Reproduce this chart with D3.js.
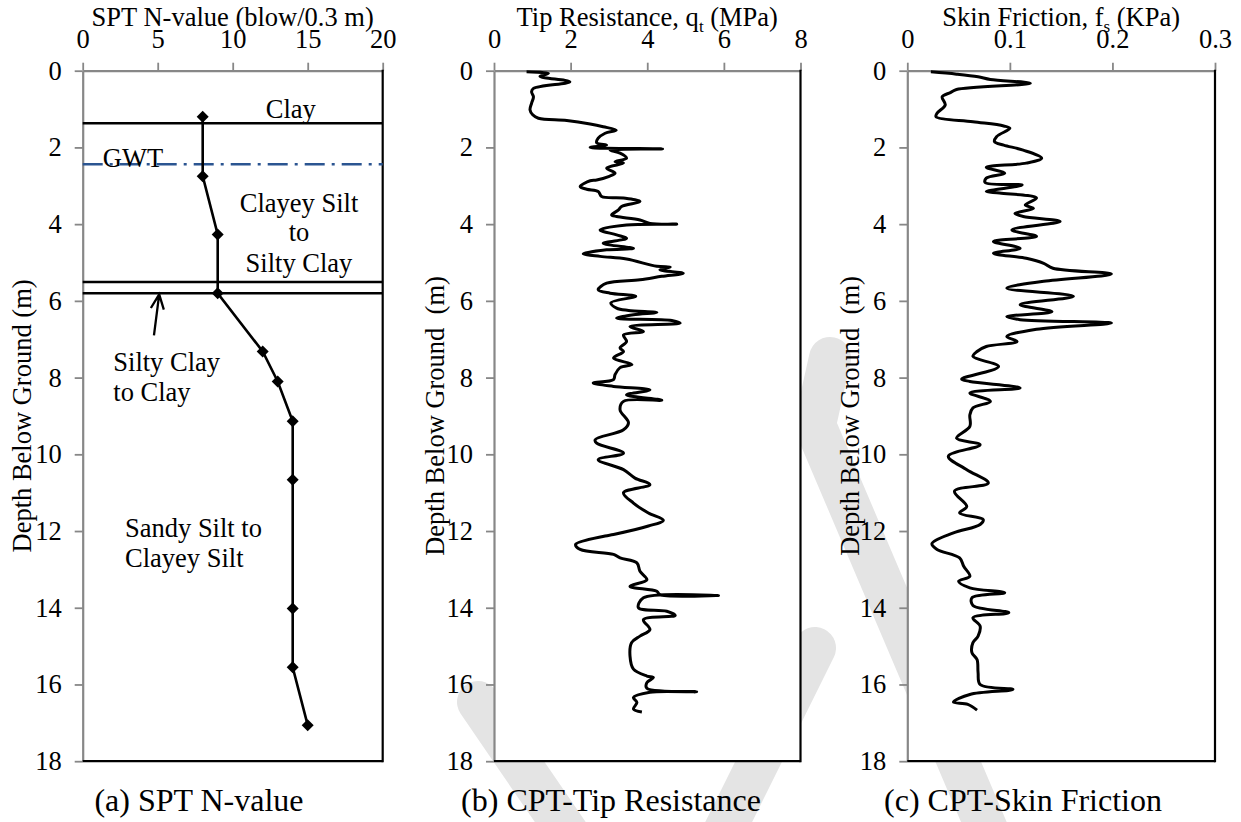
<!DOCTYPE html>
<html>
<head>
<meta charset="utf-8">
<script src="https://cdn.jsdelivr.net/npm/d3@7"></script>
<style>
  html, body { margin: 0; padding: 0; background: #fff; }
</style>
</head>
<body>
<svg id="chart" width="1241" height="822" font-family="Liberation Serif"></svg>
<script>
// ---------------- DATA ----------------
const depthTicks = [0, 2, 4, 6, 8, 10, 12, 14, 16, 18];
const sptTicks = [0, 5, 10, 15, 20];
const tipTicks = [0, 2, 4, 6, 8];
const frictionTicks = [0, 0.1, 0.2, 0.3];
const frictionTickLabels = ["0", "0.1", "0.2", "0.3"];

// SPT N-value (panel a)
const sptDepth = [1.2, 2.75, 4.27, 5.8, 7.32, 8.1, 9.14, 10.66, 14.02, 15.55, 17.06];
const sptN     = [8, 8, 9, 9, 12, 13, 14, 14, 14, 14, 15];

// soil layer boundaries and ground water table (m)
const layerDepths = [1.37, 5.51, 5.80];
const gwtDepth = 2.44;

// layer annotations: [text, N position, depth of baseline, anchor]
const layerLabels = [
  ["Clay", 13.87, 1.23, "middle"],
  ["GWT", 3.35, 2.51, "middle"],
  ["Clayey Silt", 14.42, 3.68, "middle"],
  ["to", 14.42, 4.43, "middle"],
  ["Silty Clay", 14.42, 5.24, "middle"],
  ["Silty Clay", 2.04, 7.82, "start"],
  ["to Clay", 2.04, 8.60, "start"],
  ["Sandy Silt to", 2.82, 12.15, "start"],
  ["Clayey Silt", 2.82, 12.93, "start"]
];
const arrowFrom = [4.75, 6.90];
const arrowTo = [5.10, 5.83];

// CPT tip resistance qt (MPa) vs depth (m)
const tipDepth = [0.03,0.07,0.15,0.29,0.46,0.55,0.68,0.85,1.02,1.15,1.24,1.30,1.39,1.46,1.55,1.63,1.76,1.88,1.94,2.00,2.04,2.07,2.15,2.28,2.37,2.41,2.54,2.67,2.76,2.85,2.87,3.02,3.09,3.15,3.28,3.32,3.41,3.54,3.63,3.76,3.80,3.89,3.98,4.00,4.02,4.15,4.28,4.37,4.50,4.63,4.67,4.77,4.84,4.91,5.10,5.12,5.19,5.28,5.36,5.45,5.54,5.71,5.80,5.88,6.05,6.19,6.25,6.30,6.36,6.45,6.51,6.58,6.67,6.80,6.89,7.06,7.23,7.32,7.49,7.66,7.74,7.92,8.05,8.14,8.23,8.32,8.45,8.59,8.62,8.84,9.18,9.36,9.62,9.71,9.97,10.14,10.40,10.62,10.79,11.00,11.27,11.53,11.72,11.87,12.09,12.13,12.35,12.48,12.61,12.70,12.83,13.05,13.27,13.44,13.57,13.66,13.68,13.74,14.00,14.09,14.20,14.31,14.57,14.74,14.91,15.26,15.60,15.78,15.82,15.95,16.10,16.19,16.20,16.34,16.47,16.64,16.72];
const tipQ = [0.85,1.42,1.20,1.98,1.03,0.98,1.03,0.98,0.94,1.01,1.16,1.90,2.51,2.85,3.19,2.90,2.72,2.68,2.94,2.51,4.40,3.03,3.29,3.46,3.16,3.38,2.94,3.16,2.99,2.68,2.51,2.25,2.42,2.72,2.81,3.38,3.81,3.33,3.25,3.07,3.20,3.81,4.07,4.77,3.46,2.77,3.20,3.46,2.85,3.64,2.94,2.33,2.77,3.46,4.25,4.60,4.33,4.94,4.38,3.81,2.94,2.72,3.03,3.70,3.05,3.20,3.51,4.25,3.64,3.20,4.64,4.86,3.55,3.90,3.38,3.46,3.29,3.38,3.12,3.60,3.29,3.16,3.12,2.59,3.12,4.07,3.46,4.38,3.38,3.29,3.51,3.38,2.64,2.68,3.38,2.72,3.38,3.68,4.07,3.38,3.64,4.03,4.42,4.03,3.12,2.90,2.13,2.25,3.12,3.29,3.73,3.81,3.99,3.55,4.25,4.33,5.86,3.90,3.77,4.51,4.73,3.90,4.07,3.81,3.59,3.55,3.64,3.99,4.16,3.99,3.99,5.29,4.07,3.64,3.73,3.64,3.86];

// CPT skin friction fs (KPa) vs depth (m)
const fricDepth = [0.03,0.09,0.16,0.23,0.33,0.49,0.57,0.68,0.89,1.11,1.20,1.33,1.44,1.50,1.72,1.85,1.94,2.07,2.28,2.41,2.52,2.67,2.80,2.92,2.98,3.15,3.19,3.32,3.50,3.59,3.72,3.80,3.93,4.15,4.32,4.45,4.63,4.76,4.89,5.02,5.15,5.30,5.49,5.67,5.88,6.10,6.28,6.41,6.49,6.58,6.74,6.93,7.06,7.19,7.32,7.45,7.71,8.04,8.10,8.27,8.40,8.62,8.79,8.97,9.27,9.58,9.75,10.05,10.40,10.75,10.96,11.36,11.53,11.70,11.83,12.05,12.33,12.48,12.70,12.92,13.18,13.31,13.48,13.61,13.74,13.94,14.13,14.26,14.48,14.74,14.91,15.17,15.35,15.69,16.00,16.13,16.26,16.46,16.52,16.67];
const fricF = [0.023,0.048,0.069,0.081,0.120,0.048,0.042,0.034,0.037,0.029,0.028,0.064,0.094,0.100,0.087,0.085,0.094,0.113,0.131,0.116,0.077,0.095,0.077,0.076,0.112,0.077,0.090,0.126,0.115,0.123,0.105,0.113,0.149,0.102,0.126,0.084,0.110,0.084,0.116,0.133,0.142,0.199,0.133,0.097,0.162,0.110,0.141,0.097,0.110,0.199,0.126,0.097,0.107,0.077,0.068,0.064,0.089,0.053,0.061,0.110,0.061,0.081,0.064,0.061,0.061,0.048,0.071,0.040,0.058,0.079,0.046,0.058,0.051,0.074,0.071,0.045,0.024,0.029,0.051,0.055,0.061,0.050,0.061,0.095,0.063,0.064,0.099,0.064,0.071,0.069,0.064,0.063,0.068,0.069,0.071,0.103,0.061,0.045,0.059,0.068];

// ---------------- LAYOUT ----------------
const FONT = "Liberation Serif";
const svg = d3.select("#chart");
const yTop = 70.7, yBottom = 761.2;
const panels = [
  { x0: 82.7,  x1: 382.7, domain: [0, 20],  ticks: sptTicks, fmt: d => String(d),
    title: [["SPT N-value (blow/0.3 m)"]], ylabel: "Depth Below Ground (m)", ylx: 22,
    caption: "(a) SPT N-value", capx: 199 },
  { x0: 494.0, x1: 800.5, domain: [0, 8],   ticks: tipTicks, fmt: d => String(d),
    title: [["Tip Resistance, q"], ["t", "sub"], [" (MPa)"]], ylabel: "Depth Below Ground\u00a0\u00a0(m)", ylx: 435,
    caption: "(b) CPT-Tip Resistance", capx: 611 },
  { x0: 907.3, x1: 1215.0, domain: [0, 0.3], ticks: frictionTicks, fmt: (d, i) => frictionTickLabels[i],
    title: [["Skin Friction, f"], ["s", "sub"], [" (KPa)"]], ylabel: "Depth Below Ground\u00a0\u00a0(m)", ylx: 850,
    caption: "(c) CPT-Skin Friction", capx: 1023 }
];

const y = d3.scaleLinear().domain([0, 18]).range([yTop, yBottom]);

// ---------------- WATERMARK (behind everything) ----------------
const wm = svg.append("g").attr("fill", "none").attr("stroke", "#e4e4e4")
  .attr("stroke-width", 42).attr("stroke-linecap", "round").attr("stroke-linejoin", "round");
const wmLine = d3.line();
wm.append("path").attr("d", wmLine([[830, 358], [815, 425], [1000, 860]]));
wm.append("path").attr("d", wmLine([[815, 648], [690, 900]]));
wm.append("path").attr("d", wmLine([[478, 702], [600, 880]]));

const FS = 26.5;

panels.forEach((p, pi) => {
  const x = d3.scaleLinear().domain(p.domain).range([p.x0, p.x1]);
  p.x = x;
  const g = svg.append("g");

  // plot area background (white)
  g.append("rect").attr("x", p.x0).attr("y", yTop)
    .attr("width", p.x1 - p.x0).attr("height", yBottom - yTop).attr("fill", "#fff");

  // top axis
  const ax = d3.axisTop(x).tickValues(p.ticks).tickFormat(p.fmt)
    .tickSize(8).tickSizeOuter(0).tickPadding(15);
  const gx = g.append("g").attr("transform", `translate(0,${yTop})`).call(ax);
  gx.attr("font-family", FONT).attr("font-size", FS);
  gx.select(".domain").attr("stroke", "#878787").attr("stroke-width", 2.2);
  gx.selectAll(".tick line").attr("stroke", "#878787").attr("stroke-width", 1.8);
  gx.selectAll(".tick text").attr("fill", "#000").attr("font-family", FONT).attr("font-size", FS);

  // left axis
  const ay = d3.axisLeft(y).tickValues(depthTicks).tickSize(8).tickSizeOuter(0).tickPadding(13);
  const gy = g.append("g").attr("transform", `translate(${p.x0},0)`).call(ay);
  gy.attr("font-family", FONT).attr("font-size", FS);
  gy.select(".domain").attr("stroke", "#878787").attr("stroke-width", 2.2);
  gy.selectAll(".tick line").attr("stroke", "#878787").attr("stroke-width", 1.8);
  gy.selectAll(".tick text").attr("fill", "#000").attr("font-family", FONT).attr("font-size", FS);

  // right and bottom borders (black)
  g.append("line").attr("x1", p.x1).attr("x2", p.x1).attr("y1", yTop - 1).attr("y2", yBottom + 1)
    .attr("stroke", "#000").attr("stroke-width", 2.2);
  g.append("line").attr("x1", p.x0).attr("x2", p.x1).attr("y1", yBottom).attr("y2", yBottom)
    .attr("stroke", "#000").attr("stroke-width", 2.2);

  // axis title (top)
  const t = g.append("text").attr("x", (p.x0 + p.x1) / 2).attr("y", 25.5)
    .attr("text-anchor", "middle").attr("font-family", FONT).attr("font-size", FS);
  p.title.forEach((part, k) => {
    if (part[1] === "sub") {
      t.append("tspan").attr("font-size", 17).attr("dy", 6).text(part[0]);
    } else {
      const ts = t.append("tspan").text(part[0]);
      if (k > 0) ts.attr("dy", -6);
    }
  });

  // y label
  g.append("text").attr("transform", `translate(${p.ylx},${(yTop + yBottom) / 2}) rotate(-90)`)
    .attr("text-anchor", "middle").attr("dy", "0.35em")
    .attr("font-family", FONT).attr("font-size", FS).text(p.ylabel);

  // caption
  g.append("text").attr("x", p.capx).attr("y", 811).attr("text-anchor", "middle")
    .attr("font-family", FONT).attr("font-size", 32).text(p.caption);
});

// ---------------- PANEL A CONTENT ----------------
const pa = panels[0], xa = pa.x;
const ga = svg.append("g");
// layer boundaries
ga.selectAll("line.layer").data(layerDepths).join("line").attr("class", "layer")
  .attr("x1", pa.x0).attr("x2", pa.x1).attr("y1", d => y(d)).attr("y2", d => y(d))
  .attr("stroke", "#000").attr("stroke-width", 2.5);
// GWT
ga.append("line").attr("x1", pa.x0).attr("x2", pa.x1).attr("y1", y(gwtDepth)).attr("y2", y(gwtDepth))
  .attr("stroke", "#2b5591").attr("stroke-width", 2.5).attr("stroke-dasharray", "20,7,3,7");
// labels
ga.selectAll("text.lab").data(layerLabels).join("text").attr("class", "lab")
  .attr("x", d => xa(d[1])).attr("y", d => y(d[2])).attr("text-anchor", d => d[3])
  .attr("font-family", FONT).attr("font-size", FS).text(d => d[0]);
// arrow
{
  const x1 = xa(arrowFrom[0]), y1 = y(arrowFrom[1]), x2 = xa(arrowTo[0]), y2 = y(arrowTo[1]);
  const ang = Math.atan2(y2 - y1, x2 - x1);
  const L = 16, spread = 0.42;
  const path = d3.path();
  path.moveTo(x1, y1); path.lineTo(x2, y2);
  path.moveTo(x2 - L * Math.cos(ang - spread), y2 - L * Math.sin(ang - spread));
  path.lineTo(x2, y2);
  path.lineTo(x2 - L * Math.cos(ang + spread), y2 - L * Math.sin(ang + spread));
  ga.append("path").attr("d", path.toString()).attr("fill", "none")
    .attr("stroke", "#000").attr("stroke-width", 2.3).attr("stroke-linejoin", "miter");
}
// SPT line and markers
const sptPts = sptDepth.map((d, i) => [sptN[i], d]);
ga.append("path").datum(sptPts)
  .attr("d", d3.line().x(d => xa(d[0])).y(d => y(d[1])))
  .attr("fill", "none").attr("stroke", "#000").attr("stroke-width", 2.6);
ga.selectAll("path.mk").data(sptPts).join("path").attr("class", "mk")
  .attr("d", d3.symbol(d3.symbolSquare, 72))
  .attr("transform", d => `translate(${xa(d[0])},${y(d[1])}) rotate(45)`)
  .attr("fill", "#000");

// ---------------- PANEL B & C CONTENT ----------------
const cptLine = (x) => d3.line().x(d => x(d[0])).y(d => y(d[1])).curve(d3.curveCatmullRom.alpha(0.5));
const tipPts = tipDepth.map((d, i) => [tipQ[i], d]);
svg.append("path").datum(tipPts).attr("d", cptLine(panels[1].x))
  .attr("fill", "none").attr("stroke", "#000").attr("stroke-width", 3).attr("stroke-linejoin", "round");
const fricPts = fricDepth.map((d, i) => [fricF[i], d]);
svg.append("path").datum(fricPts).attr("d", cptLine(panels[2].x))
  .attr("fill", "none").attr("stroke", "#000").attr("stroke-width", 3).attr("stroke-linejoin", "round");
</script>
</body>
</html>
